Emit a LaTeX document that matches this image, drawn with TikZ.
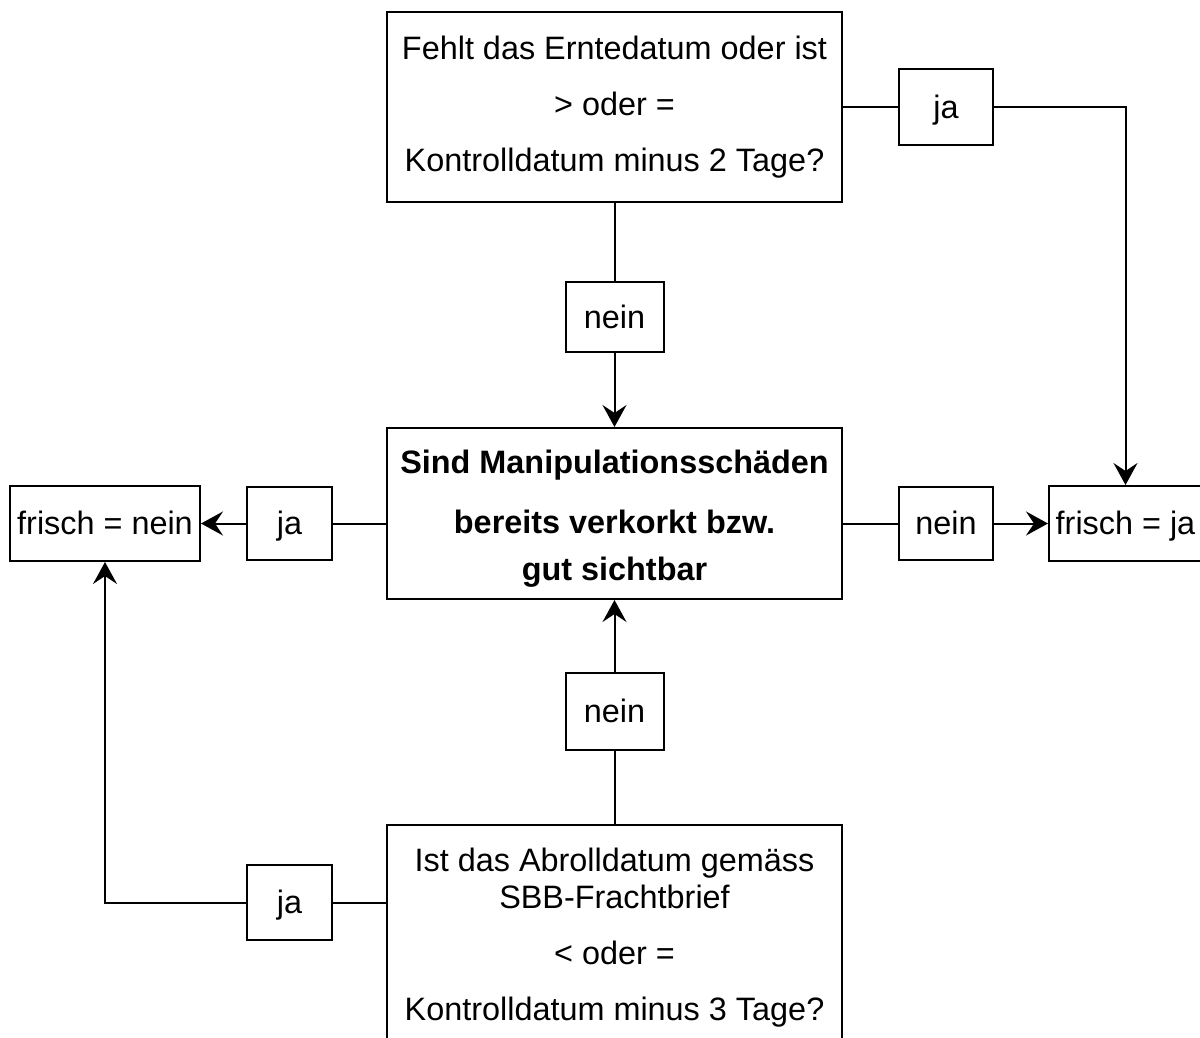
\documentclass[tikz,border=0pt]{standalone}
\usepackage{fontspec}
\setmainfont{Liberation Sans}
\usetikzlibrary{positioning,arrows.meta}

\begin{document}
\begin{tikzpicture}[x=1pt, y=1pt, line width=2pt,
    >={Stealth[length=22pt, width=24pt, inset=8pt]},
    every node/.style={font=\fontsize{32.4}{37}\selectfont},
    box/.style={rectangle, draw, inner sep=0pt, align=center},
    frage/.style={box, minimum width=455pt},
    antwort/.style={box, minimum width=94pt, minimum height=76pt, text height=26pt, text depth=4pt}]
    \path[use as bounding box, clip] (0,0) rectangle (1200,-1037);

    \node (ernte) [frage, minimum height=190pt] at (614.5,-107) {Fehlt das Erntedatum oder ist\\[19pt] > oder =\\[19pt] Kontrolldatum minus 2 Tage?};
    \node (neinO) [antwort, minimum width=98pt, minimum height=70pt, below=78pt of ernte] {nein};
    \node (pruef) [frage, minimum height=171pt, below=74pt of neinO, font=\fontsize{32.4}{37}\selectfont\bfseries] {\rule{0pt}{34pt}Sind Manipulationsschäden\\[23pt] bereits verkorkt bzw.\\[10pt] gut sichtbar};
    \node (neinU) [antwort, minimum width=98pt, minimum height=77pt, below=72pt of pruef] {nein};
    \node (abroll) [frage, minimum height=226pt, below=73pt of neinU] {Ist das Abrolldatum gemäss\\ SBB-Frachtbrief\\[19pt] < oder =\\[19pt] Kontrolldatum minus 3 Tage?};
    \node (jaO) [antwort, right=55pt of ernte] {ja};
    \node (neinR) [antwort, minimum height=73pt, right=55pt of pruef, yshift=-10pt] {nein};
    \node (frischJa) [antwort, minimum width=153pt, minimum height=75pt, right=54pt of neinR] {frisch = ja};
    \node (jaL) [antwort, minimum width=85pt, minimum height=73pt, left=53pt of pruef, yshift=-10pt] {ja};
    \node (frischNein) [antwort, minimum width=190pt, minimum height=75pt, left=45pt of jaL] {frisch = nein};
    \node (jaU) [antwort, minimum width=85pt, minimum height=75pt, below=303pt of jaL] {ja};

    \draw (ernte) -- (jaO);
    \draw[->] (jaO) -| (frischJa);
    \draw (ernte) -- (neinO);
    \draw[->] (neinO) -- (pruef);
    \draw (pruef.east |- neinR) -- (neinR);
    \draw[->] (neinR) -- (frischJa);
    \draw (pruef.west |- jaL) -- (jaL);
    \draw[->] (jaL) -- (frischNein);
    \draw (abroll) -- (neinU);
    \draw[->] (neinU) -- (pruef);
    \draw (abroll.west |- jaU) -- (jaU);
    \draw[->] (jaU) -| (frischNein);
\end{tikzpicture}
\end{document}
